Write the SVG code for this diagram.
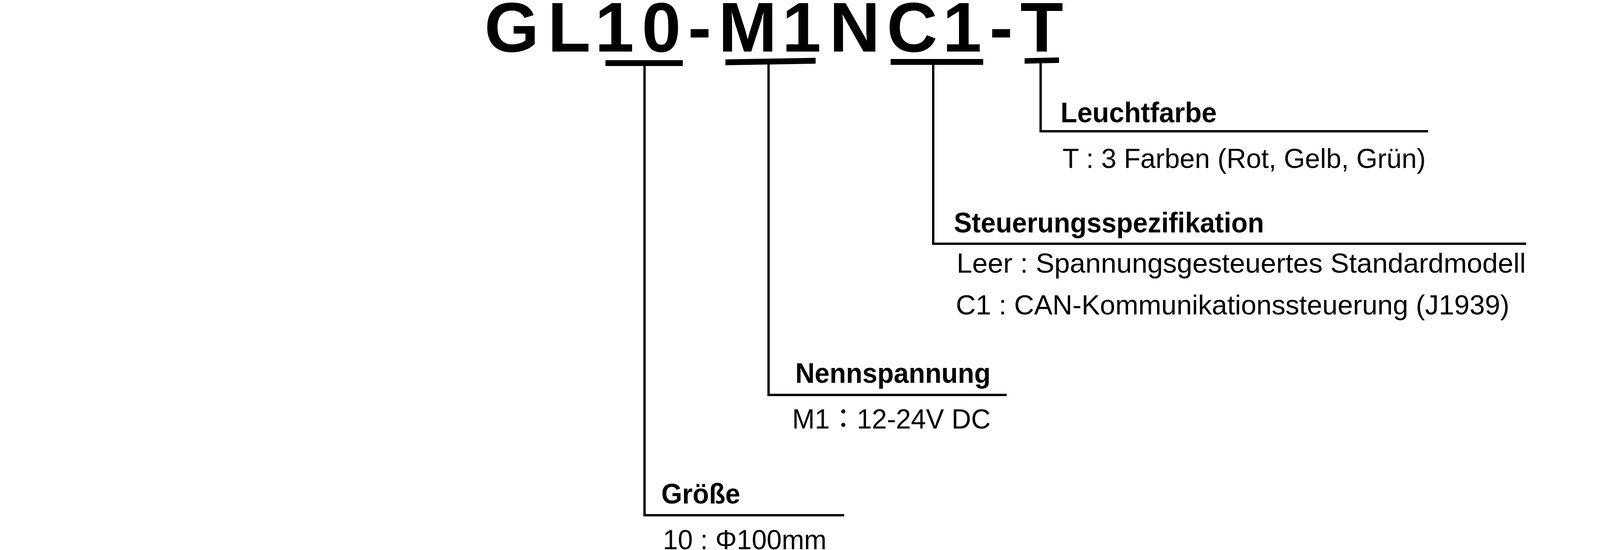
<svg xmlns="http://www.w3.org/2000/svg" width="5200" height="1408" viewBox="0 0 5200 1408">
<style>
.title{font-family:"Liberation Sans",Arial,"Noto Sans CJK JP",sans-serif;font-weight:bold;font-size:180px;fill:#000}
.hdr{font-family:"Liberation Sans",Arial,"Noto Sans CJK JP",sans-serif;font-weight:bold;font-size:72px;fill:#000}
.desc{font-family:"Liberation Sans",Arial,"Noto Sans CJK JP",sans-serif;font-size:70px;fill:#000}
.wire{fill:none;stroke:#000;stroke-width:6;stroke-linejoin:miter;stroke-linecap:butt}
.bar{fill:#000}
</style>
<rect width="5200" height="1408" fill="#fff"/>
<g id="model-code">
<text class="title" y="132" x="1240 1402 1523 1643 1761 1839 2002 2123 2270 2413 2533 2612">GL10-M1NC1-T</text>
</g>
<g id="connectors">
<rect class="bar" x="1550" y="154" width="198" height="15"/>
<polygon class="bar" points="1857,152 2088,148 2088,163 1857,167"/>
<rect class="bar" x="2280" y="151" width="237" height="15"/>
<polygon class="bar" points="2623,149 2711,147 2711,161 2623,163"/>
<path class="wire" d="M1650 168 V1319 H2161"/>
<path class="wire" d="M1967.5 165 V1011 H2577"/>
<path class="wire" d="M2389 165 V624 H3907"/>
<path class="wire" d="M2664 161 V336 H3656"/>
</g>
<g id="node-leuchtfarbe">
<text class="hdr" x="2715" y="313" textLength="400" lengthAdjust="spacingAndGlyphs">Leuchtfarbe</text>
<text class="desc" x="2720" y="430" textLength="930" lengthAdjust="spacingAndGlyphs">T : 3 Farben (Rot, Gelb, Grün)</text>
</g>
<g id="node-steuerung">
<text class="hdr" x="2442" y="595" textLength="794" lengthAdjust="spacingAndGlyphs">Steuerungsspezifikation</text>
<text class="desc" x="2449" y="698" textLength="1457" lengthAdjust="spacingAndGlyphs">Leer : Spannungsgesteuertes Standardmodell</text>
<text class="desc" x="2447" y="805" textLength="1417" lengthAdjust="spacingAndGlyphs">C1 : CAN-Kommunikationssteuerung (J1939)</text>
</g>
<g id="node-nennspannung">
<text class="hdr" x="2036" y="980" textLength="500" lengthAdjust="spacingAndGlyphs">Nennspannung</text>
<text class="desc" x="2028" y="1097" textLength="508" lengthAdjust="spacingAndGlyphs">M1：12-24V DC</text>
</g>
<g id="node-groesse">
<text class="hdr" x="1693" y="1289" textLength="202" lengthAdjust="spacingAndGlyphs">Größe</text>
<text class="desc" x="1697" y="1406" textLength="419" lengthAdjust="spacingAndGlyphs">10 : Φ100mm</text>
</g>
</svg>
